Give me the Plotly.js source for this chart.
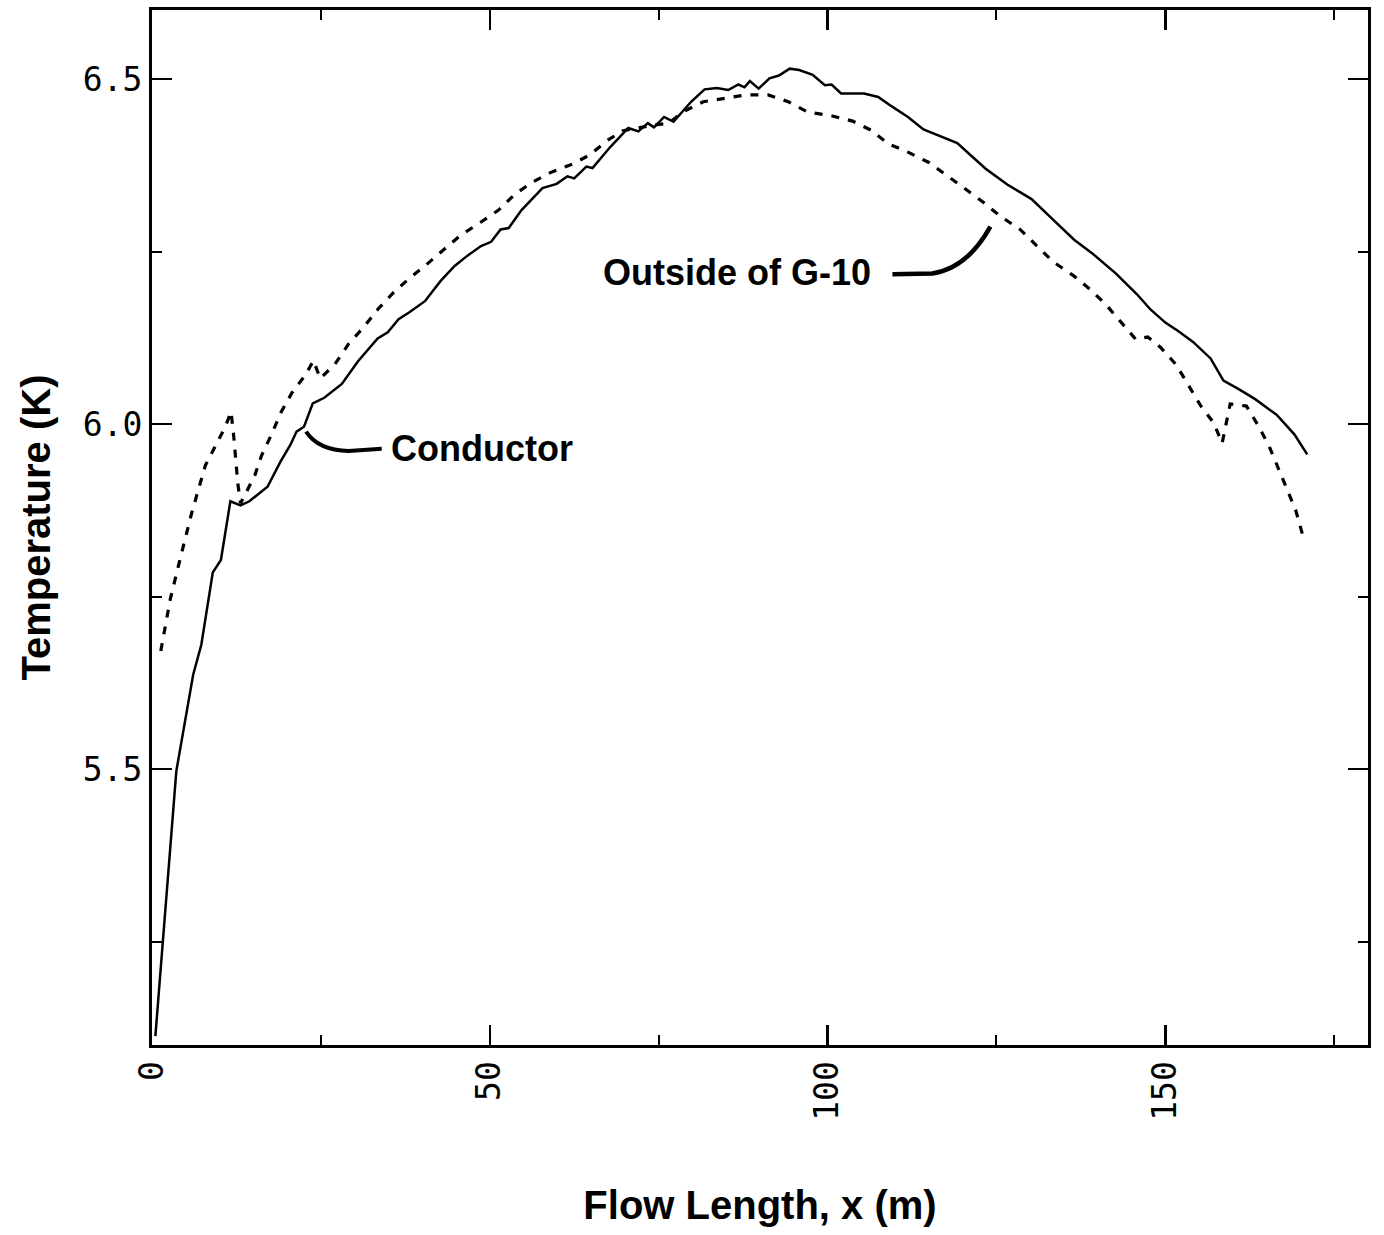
<!DOCTYPE html>
<html>
<head>
<meta charset="utf-8">
<script src="https://cdn.plot.ly/plotly-3.0.1.min.js"></script>
<style>
  html, body { margin: 0; padding: 0; background: #ffffff; }
  #chart { width: 1384px; height: 1235px; }
</style>
</head>
<body>
<div id="chart"></div>
<script>
// Conductor temperature (solid line)
const conductorX = [0.5, 3.6, 6.1, 7.3, 9.0, 10.2, 11.6, 13.1, 14.4, 17.1, 19.0, 20.5, 21.4, 22.5, 23.8, 25.5,
  28.1, 30.5, 33.4, 34.9, 36.5, 38.1, 40.4, 42.7, 44.8, 46.7, 48.7, 50.2, 51.6, 52.8, 54.7, 57.8, 59.9,
  61.5, 62.5, 64.3, 65.2, 67.8, 70.5, 72.0, 73.4, 74.3, 75.8, 77.2, 79.8, 81.8, 83.6, 85.3, 86.8, 87.7,
  88.5, 89.8, 91.4, 92.8, 94.4, 95.8, 97.8, 99.6, 100.6, 102.0, 105.4, 107.5, 109.4, 111.9, 114.2, 117.1,
  119.2, 120.9, 123.4, 126.6, 130.2, 133.3, 136.5, 139.1, 142.7, 145.8, 147.8, 150.0, 152.0, 154.1, 156.7,
  158.6, 160.8, 163.3, 166.5, 169.1, 171.0];
const conductorT = [5.113, 5.497, 5.637, 5.680, 5.785, 5.803, 5.888, 5.882, 5.888, 5.909, 5.945, 5.970, 5.989, 5.996, 6.030, 6.038,
  6.058, 6.091, 6.124, 6.133, 6.152, 6.162, 6.178, 6.207, 6.229, 6.244, 6.258, 6.264, 6.282, 6.284, 6.310, 6.342, 6.348,
  6.359, 6.356, 6.373, 6.371, 6.401, 6.429, 6.424, 6.436, 6.430, 6.445, 6.438, 6.467, 6.485, 6.487, 6.484, 6.492, 6.488,
  6.497, 6.486, 6.501, 6.505, 6.515, 6.513, 6.506, 6.491, 6.492, 6.479, 6.479, 6.474, 6.461, 6.445, 6.427, 6.416,
  6.407, 6.392, 6.370, 6.347, 6.326, 6.297, 6.267, 6.248, 6.218, 6.188, 6.166, 6.147, 6.134, 6.119, 6.095,
  6.063, 6.051, 6.036, 6.013, 5.985, 5.956];

// Outside of G-10 temperature (dashed line)
const g10X = [1.3, 2.7, 4.3, 5.9, 7.9, 9.4, 10.9, 11.7, 12.1, 12.7, 13.1, 15.2, 16.2, 17.7, 19.1, 20.7, 22.7,
  23.9, 24.9, 27.1, 29.1, 31.4, 33.5, 35.8, 38.2, 40.5, 43.1, 45.6, 48.6, 51.3, 53.6, 56.2, 58.9, 62.3,
  64.8, 67.4, 69.7, 71.9, 74.1, 76.5, 78.7, 81.6, 84.7, 88.0, 91.2, 94.2, 97.1, 100.5, 103.7, 106.4,
  109.0, 111.9, 115.0, 117.6, 120.2, 123.1, 125.6, 128.5, 131.1, 133.4, 136.4, 139.0, 141.3, 143.3,
  145.6, 147.4, 149.3, 151.6, 153.5, 155.2, 157.2, 158.4, 159.6, 162.0, 163.8, 165.4, 166.8, 168.1,
  169.3, 170.3];
const g10T = [5.671, 5.746, 5.810, 5.872, 5.940, 5.968, 5.997, 6.018, 5.982, 5.914, 5.885, 5.925, 5.954, 5.985, 6.017, 6.045, 6.071,
  6.092, 6.066, 6.087, 6.116, 6.141, 6.167, 6.191, 6.212, 6.230, 6.252, 6.273, 6.292, 6.310, 6.332, 6.350, 6.364, 6.377,
  6.390, 6.411, 6.425, 6.429, 6.433, 6.436, 6.453, 6.467, 6.472, 6.477, 6.477, 6.467, 6.452, 6.447, 6.439, 6.426,
  6.406, 6.394, 6.379, 6.361, 6.342, 6.321, 6.301, 6.282, 6.257, 6.235, 6.215, 6.194, 6.172, 6.149,
  6.123, 6.126, 6.111, 6.086, 6.054, 6.027, 6.001, 5.972, 6.029, 6.026, 5.997, 5.967, 5.934, 5.904,
  5.875, 5.840];

// Tick values and labels
const xTickVals = [0, 50, 100, 150];
const xTickText = ["0", "50", "100", "150"];
const xMinorVals = [25, 75, 125, 175];
const yTickVals = [5.5, 6.0, 6.5];
const yTickText = ["5.5", "6.0", "6.5"];
const yMinorVals = [5.25, 5.75, 6.25];

const tickFont = { family: "DejaVu Sans Mono", size: 33, color: "#000" };
const titleFont = { family: "Liberation Sans, Arial, sans-serif", size: 40, color: "#000", weight: 700 };
const labelFont = { family: "Liberation Sans, Arial, sans-serif", size: 36, color: "#000", weight: 700 };

const traces = [
  {
    x: conductorX, y: conductorT, type: "scatter", mode: "lines", name: "Conductor",
    line: { color: "#000", width: 2.5 }, hoverinfo: "skip"
  },
  {
    x: g10X, y: g10T, type: "scatter", mode: "lines", name: "Outside of G-10",
    line: { color: "#000", width: 3.2, dash: "8px,9px" }, hoverinfo: "skip"
  }
];

const layout = {
  width: 1384, height: 1235,
  margin: { l: 152, r: 16, t: 10, b: 190 },
  paper_bgcolor: "#fff", plot_bgcolor: "#fff",
  showlegend: false,
  xaxis: {
    range: [0, 180],
    tickmode: "array", tickvals: xTickVals, ticktext: xTickText,
    tickangle: -90, tickfont: tickFont,
    ticks: "inside", ticklen: 20, tickwidth: 2.5, tickcolor: "#000",
    minor: { tickmode: "array", tickvals: xMinorVals, ticks: "inside", ticklen: 10, tickwidth: 2, tickcolor: "#000", showgrid: false },
    showline: true, linewidth: 3, linecolor: "#000", mirror: "allticks",
    showgrid: false, zeroline: false,
    title: { text: "Flow Length, x (m)", font: titleFont, standoff: 72 }
  },
  yaxis: {
    range: [5.1, 6.6],
    tickmode: "array", tickvals: yTickVals, ticktext: yTickText,
    tickfont: tickFont,
    ticks: "inside", ticklen: 20, tickwidth: 2.5, tickcolor: "#000",
    minor: { tickmode: "array", tickvals: yMinorVals, ticks: "inside", ticklen: 10, tickwidth: 2, tickcolor: "#000", showgrid: false },
    showline: true, linewidth: 3, linecolor: "#000", mirror: "allticks",
    showgrid: false, zeroline: false,
    title: { text: "Temperature (K)", font: titleFont, standoff: 20 }
  },
  annotations: [
    { x: 48.8, y: 5.964, xref: "x", yref: "y", text: "Conductor", showarrow: false,
      font: labelFont, xanchor: "center", yanchor: "middle" },
    { x: 86.6, y: 6.219, xref: "x", yref: "y", text: "Outside of G-10", showarrow: false,
      font: labelFont, xanchor: "center", yanchor: "middle" }
  ],
  shapes: [
    { type: "path", xref: "x", yref: "y", path: "M 22.8,5.989 Q 24.6,5.962 29.1,5.961 L 34.0,5.964",
      line: { color: "#000", width: 4 } },
    { type: "path", xref: "x", yref: "y", path: "M 109.6,6.217 L 115.5,6.218 Q 120.7,6.226 124.1,6.286",
      line: { color: "#000", width: 4.5 } }
  ]
};

Plotly.newPlot("chart", traces, layout, { staticPlot: true, displayModeBar: false });
</script>
</body>
</html>
